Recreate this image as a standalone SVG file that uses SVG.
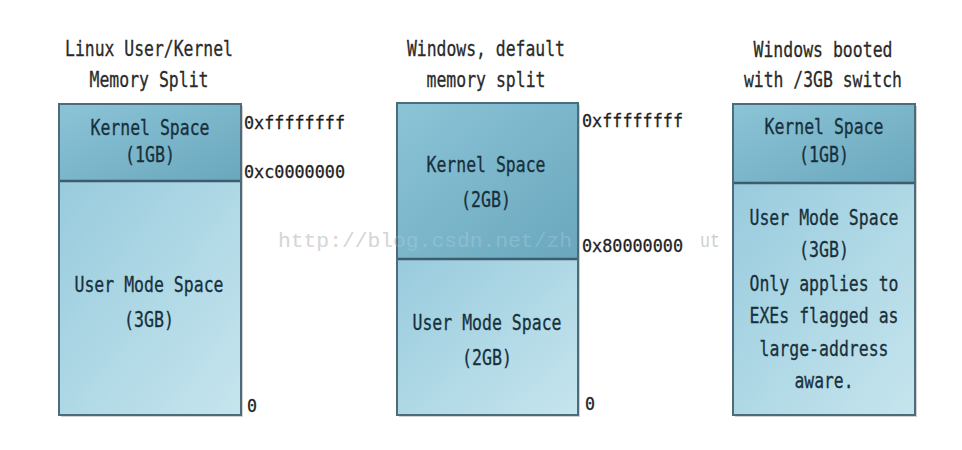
<svg xmlns="http://www.w3.org/2000/svg" width="962" height="450" viewBox="0 0 962 450">
<defs>
<linearGradient id="gk" x1="0" y1="0" x2="1" y2="1">
<stop offset="0" stop-color="#8cc4d7"/>
<stop offset="1" stop-color="#6aa7bd"/>
</linearGradient>
<linearGradient id="gu" x1="0" y1="0" x2="1" y2="1">
<stop offset="0" stop-color="#98cbdd"/>
<stop offset="1" stop-color="#c6e5ee"/>
</linearGradient>
<style>
.t{font-family:"DejaVu Sans Mono","Liberation Mono",monospace;font-size:21px;fill:#18303b;text-anchor:middle;stroke:#18303b;stroke-width:0.3}
.ti{font-family:"DejaVu Sans Mono","Liberation Mono",monospace;font-size:21px;fill:#2a2a2a;text-anchor:middle;stroke:#2a2a2a;stroke-width:0.3}
.hx{font-family:"DejaVu Sans Mono","Liberation Mono",monospace;font-size:18px;fill:#1e1e1e;text-anchor:start;stroke:#1e1e1e;stroke-width:0.3}
.k{fill:url(#gk)}
.u{fill:url(#gu)}
.frame{fill:none;stroke:#4d6c7b;stroke-width:2}
.div{stroke:#3e5d6c;stroke-width:2.5}
.sh{fill:#9a9a9a;opacity:0.45}
.wm{font-family:"Liberation Mono",monospace;font-size:21px}
</style>
</defs>
<rect width="962" height="450" fill="#ffffff"/>

<text class="wm" x="278" y="247" fill="#cfcfcf" textLength="294" lengthAdjust="spacingAndGlyphs">http://blog.csdn.net/zh</text>
<text class="wm" x="700" y="247" fill="#cfcfcf" textLength="20" lengthAdjust="spacingAndGlyphs">ut</text>

<g id="linux">
<text class="ti" x="149" y="56" textLength="168" lengthAdjust="spacingAndGlyphs">Linux User/Kernel</text>
<text class="ti" x="149" y="87" textLength="119" lengthAdjust="spacingAndGlyphs">Memory Split</text>
<rect class="sh" x="61" y="106" width="182" height="311"/>
<rect class="k" x="59" y="104" width="182" height="77"/>
<rect class="u" x="59" y="181" width="182" height="234"/>
<line class="div" x1="59" y1="181" x2="241" y2="181"/>
<rect class="frame" x="59" y="104" width="182" height="311"/>
<text class="t" x="150" y="135" textLength="119" lengthAdjust="spacingAndGlyphs">Kernel Space</text>
<text class="t" x="150" y="162" textLength="50" lengthAdjust="spacingAndGlyphs">(1GB)</text>
<text class="t" x="149" y="292" textLength="149" lengthAdjust="spacingAndGlyphs">User Mode Space</text>
<text class="t" x="149" y="327" textLength="50" lengthAdjust="spacingAndGlyphs">(3GB)</text>
<text class="hx" x="244" y="129" textLength="101" lengthAdjust="spacingAndGlyphs">0xffffffff</text>
<text class="hx" x="244" y="178" textLength="101" lengthAdjust="spacingAndGlyphs">0xc0000000</text>
<text class="hx" x="247" y="412" textLength="10" lengthAdjust="spacingAndGlyphs">0</text>
</g>

<g id="windows-default">
<text class="ti" x="486" y="56" textLength="158" lengthAdjust="spacingAndGlyphs">Windows, default</text>
<text class="ti" x="486" y="87" textLength="119" lengthAdjust="spacingAndGlyphs">memory split</text>
<rect class="sh" x="399" y="105" width="181" height="312"/>
<rect class="k" x="397" y="103" width="181" height="156"/>
<rect class="u" x="397" y="259" width="181" height="156"/>
<line class="div" x1="397" y1="259" x2="578" y2="259"/>
<rect class="frame" x="397" y="103" width="181" height="312"/>
<text class="t" x="486" y="172" textLength="119" lengthAdjust="spacingAndGlyphs">Kernel Space</text>
<text class="t" x="486" y="207" textLength="50" lengthAdjust="spacingAndGlyphs">(2GB)</text>
<text class="t" x="487" y="330" textLength="149" lengthAdjust="spacingAndGlyphs">User Mode Space</text>
<text class="t" x="487" y="365" textLength="50" lengthAdjust="spacingAndGlyphs">(2GB)</text>
<text class="wm" x="278" y="247" fill="#ffffff" opacity="0.15" textLength="294" lengthAdjust="spacingAndGlyphs">http://blog.csdn.net/zh</text>
<text class="hx" x="582" y="127" textLength="101" lengthAdjust="spacingAndGlyphs">0xffffffff</text>
<text class="hx" x="582" y="252" textLength="101" lengthAdjust="spacingAndGlyphs">0x80000000</text>
<text class="hx" x="585" y="410" textLength="10" lengthAdjust="spacingAndGlyphs">0</text>
</g>

<g id="windows-3gb">
<text class="ti" x="823" y="57" textLength="139" lengthAdjust="spacingAndGlyphs">Windows booted</text>
<text class="ti" x="823" y="87" textLength="158" lengthAdjust="spacingAndGlyphs">with /3GB switch</text>
<rect class="sh" x="735" y="106" width="182" height="311"/>
<rect class="k" x="733" y="104" width="182" height="79"/>
<rect class="u" x="733" y="183" width="182" height="232"/>
<line class="div" x1="733" y1="183" x2="915" y2="183"/>
<rect class="frame" x="733" y="104" width="182" height="311"/>
<text class="t" x="824" y="134" textLength="119" lengthAdjust="spacingAndGlyphs">Kernel Space</text>
<text class="t" x="824" y="162" textLength="50" lengthAdjust="spacingAndGlyphs">(1GB)</text>
<text class="t" x="824" y="225" textLength="149" lengthAdjust="spacingAndGlyphs">User Mode Space</text>
<text class="t" x="824" y="257" textLength="50" lengthAdjust="spacingAndGlyphs">(3GB)</text>
<text class="t" x="824" y="291" textLength="149" lengthAdjust="spacingAndGlyphs">Only applies to</text>
<text class="t" x="824" y="323" textLength="149" lengthAdjust="spacingAndGlyphs">EXEs flagged as</text>
<text class="t" x="824" y="356" textLength="129" lengthAdjust="spacingAndGlyphs">large-address</text>
<text class="t" x="824" y="388" textLength="59" lengthAdjust="spacingAndGlyphs">aware.</text>
</g>
</svg>
